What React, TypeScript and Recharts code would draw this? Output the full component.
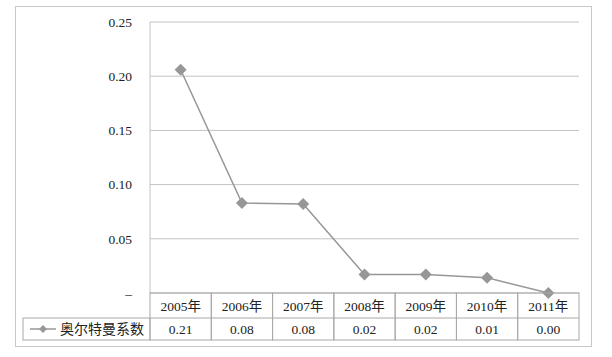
import { LineChart, Line, XAxis, YAxis, CartesianGrid } from 'recharts'

const years = ['2005年', '2006年', '2007年', '2008年', '2009年', '2010年', '2011年']
const altmanValues = [0.206, 0.083, 0.082, 0.017, 0.017, 0.014, 0.0]
const yTicks = [0, 0.05, 0.1, 0.15, 0.2, 0.25]
const seriesName = '奥尔特曼系数'

const data = years.map((year, i) => ({ year, value: altmanValues[i] }))

const GRID = '#c3c3c3'
const TABLE_LINE = '#a8a8a8'
const MARK = '#979797'
const SERIF = '"Liberation Serif", "Noto Sans CJK SC", serif'
const CJK = '"Noto Sans CJK SC", sans-serif'

// data table layout
const ROW1 = 25
const ROW2 = 22
const LEGEND_W = 127

function Diamond({ cx, cy, r = 6 }: { cx: number; cy: number; r?: number }) {
  return <path d={`M${cx},${cy - r}L${cx + r},${cy}L${cx},${cy + r}L${cx - r},${cy}Z`} fill={MARK} />
}

function TableTick(props: any) {
  const { x, y, payload, index } = props
  const half = payload?.offset || 30.65
  const left = x - half
  const w = half * 2
  const label = altmanValues[index].toFixed(2)
  return (
    <g>
      <rect x={left} y={y} width={w} height={ROW1 + ROW2} fill="none" stroke={TABLE_LINE} />
      <line x1={left} x2={left + w} y1={y + ROW1} y2={y + ROW1} stroke={TABLE_LINE} />
      <text x={x} y={y + ROW1 / 2 + 5} textAnchor="middle" fontSize={13.5} fontFamily={SERIF} fill="#222">
        {payload.value}
      </text>
      <text x={x} y={y + ROW1 + ROW2 / 2 + 5} textAnchor="middle" fontSize={13.5} fontFamily={SERIF} fill="#222">
        {label}
      </text>
      {index === 0 && (
        <g>
          <rect x={left - LEGEND_W} y={y + ROW1} width={LEGEND_W} height={ROW2} fill="none" stroke={TABLE_LINE} />
          <line x1={left - LEGEND_W + 7} x2={left - LEGEND_W + 33} y1={y + ROW1 + ROW2 / 2} y2={y + ROW1 + ROW2 / 2} stroke={MARK} strokeWidth={1.5} />
          <Diamond cx={left - LEGEND_W + 20} cy={y + ROW1 + ROW2 / 2} r={4} />
          <text x={left - LEGEND_W + 37} y={y + ROW1 + ROW2 / 2 + 5} fontSize={14} fontFamily={CJK} fill="#222">
            {seriesName}
          </text>
        </g>
      )}
    </g>
  )
}

export default function App() {
  return (
    <div style={{ position: 'absolute', left: 0, top: 0, width: 612, height: 357, background: '#fff' }}>
      <div
        style={{
          position: 'absolute',
          left: 15,
          top: 6,
          width: 575,
          height: 339,
          border: '1px solid #c8c8c8',
        }}
      />
      <LineChart width={612} height={357} data={data} margin={{ top: 22, right: 33, left: 0, bottom: 17 }}>
        <CartesianGrid horizontal vertical={false} stroke={GRID} />
        <XAxis
          dataKey="year"
          scale="band"
          height={47}
          axisLine={false}
          tickLine={false}
          tickSize={0}
          tickMargin={0}
          interval={0}
          tick={<TableTick />}
        />
        <YAxis
          width={150}
          domain={[0, 0.25]}
          ticks={yTicks}
          interval={0}
          axisLine={{ stroke: GRID }}
          tickLine={false}
          tickSize={0}
          tickMargin={18}
          tick={{ fill: '#222', fontSize: 13.5, fontFamily: SERIF }}
          tickFormatter={(v: number) => (v === 0 ? '–' : v.toFixed(2))}
        />
        <Line
          dataKey="value"
          name={seriesName}
          stroke={MARK}
          strokeWidth={1.5}
          isAnimationActive={false}
          dot={(p: any) => <Diamond key={p.index} cx={p.cx} cy={p.cy} />}
          activeDot={false}
        />
      </LineChart>
    </div>
  )
}
